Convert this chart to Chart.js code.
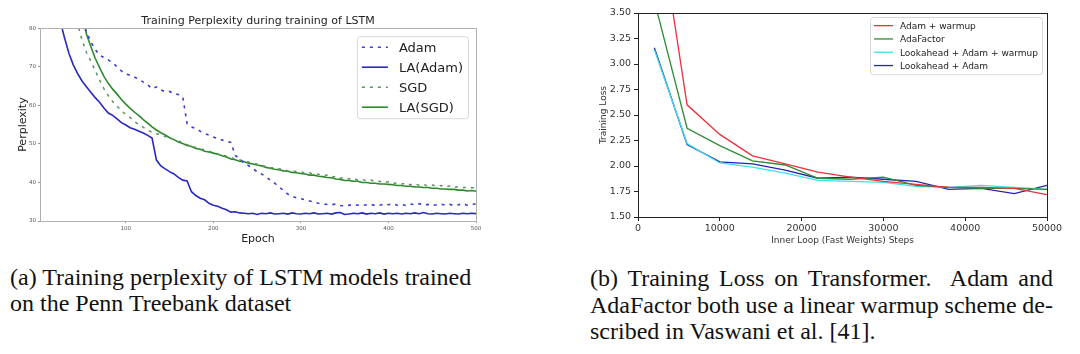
<!DOCTYPE html>
<html>
<head>
<meta charset="utf-8">
<script src="https://cdn.jsdelivr.net/npm/chart.js@4.4.1/dist/chart.umd.min.js"></script>
<style>
  body { margin: 0; background: #fff; width: 1080px; height: 354px; overflow: hidden; position: relative; }
  .box { position: absolute; top: 0; }
  .cap { position: absolute; font-family: "Liberation Serif", "Times New Roman", serif; font-size: 24px; line-height: 26px; color: #111; }
  .cap .j { text-align: justify; text-align-last: justify; }
</style>
</head>
<body>
<div class="box" style="left:0;width:520px;height:252px"><canvas id="lstm" width="520" height="252"></canvas></div>
<div class="box" style="left:560px;width:520px;height:252px"><canvas id="tf" width="520" height="252"></canvas></div>
<div class="cap" style="left:10px;top:264px;width:530px">(a) Training perplexity of LSTM models trained<br>on the Penn Treebank dataset</div>
<div class="cap" style="left:590px;top:265px;width:463px;line-height:26.5px">
  <div class="j">(b) Training Loss on Transformer.&nbsp; Adam and</div>
  <div class="j" style="word-spacing:-2px">AdaFactor both use a linear warmup scheme de-</div>
  <div>scribed in Vaswani et al. [41].</div>
</div>
<script>
// ---- left: LSTM perplexity (epoch every 5) ----
const epochs = [];
for (let e = 5; e <= 500; e += 5) epochs.push(e);
const lstmXTicks = [100, 200, 300, 400, 500];
const lstmYTicks = [30, 40, 50, 60, 70, 80];

const adam = [150,128,112,100,93,88,86,84,83.5,83,79.0,76.5,74.5,73.0,72.4,71.8,71.0,70.0,68.9,68.1,
  67.8,67.3,66.8,66.0,65.3,64.3,64.8,64.0,63.5,63.6,63.0,62.8,62.3,55.2,54.4,54.0,53.3,52.7,52.3,51.8,
  51.4,51.0,50.6,50.4,47.0,46.2,45.0,44.4,43.6,42.8,42.2,41.5,40.6,39.8,38.9,37.9,37.0,36.4,36.0,35.8,
  35.5,35.2,34.9,34.6,34.4,34.3,34.2,34.4,34.0,33.9,34.1,34.3,34.1,34.0,34.2,34.3,34.0,34.1,34.4,34.2,
  34.5,34.1,34.3,34.0,34.4,34.2,34.5,34.1,34.3,34.0,34.2,34.4,34.1,34.3,34.0,34.2,34.5,34.1,34.3,34.4];
const laAdam = [130,110,97,88,82,77.5,73.5,70.5,68.2,66.3,64.8,63.4,62.0,60.8,59.3,58.0,57.4,56.5,55.5,54.9,
  54.2,53.8,53.3,52.8,52.2,51.5,45.8,44.3,43.5,42.8,42.2,41.3,40.6,40.4,37.6,36.6,35.9,35.5,34.6,34.1,
  33.8,33.3,32.9,32.3,32.4,32.1,32.0,31.9,32.0,31.7,32.0,31.9,32.1,31.8,31.9,32.0,31.8,32.1,31.9,31.8,
  32.0,31.9,32.1,31.8,31.9,32.0,31.8,32.1,32.2,31.7,31.8,32.0,31.9,32.1,31.8,32.0,31.9,32.1,31.8,32.0,
  31.9,32.0,31.8,32.0,31.9,32.1,31.9,32.2,31.9,31.8,32.0,31.9,31.8,32.0,31.9,31.8,32.0,31.9,32.0,31.9];
const sgd = [140,120,106,97,92,89,88,88,81,77.0,73.7,71.5,69.0,66.6,64.3,62.5,61.0,59.8,58.6,57.6,
  56.8,55.8,55.0,54.3,53.6,53.0,52.6,52.4,51.9,51.7,51.0,50.8,50.2,49.8,49.3,49.1,48.6,48.5,48.0,47.9,
  47.4,47.2,46.8,46.5,46.0,45.9,45.5,45.3,44.9,44.8,44.4,44.2,43.8,43.8,43.5,43.4,43.0,43.1,42.8,42.8,
  42.4,42.5,42.1,42.1,41.7,41.9,41.4,41.6,41.1,41.3,40.9,41.1,40.6,40.8,40.4,40.6,40.2,40.3,39.9,40.2,
  39.7,39.9,39.6,39.8,39.4,39.7,39.2,39.5,39.1,39.3,39.0,39.2,38.8,39.1,38.7,38.9,38.7,38.7,38.6,38.6];
const laSgd = [150,130,115,104,97,93,91,90.5,90,84,78.5,75.3,72.2,69.8,67.5,65.7,64.2,62.9,61.5,60.3,
  59.2,58.2,57.3,56.3,55.4,54.4,53.6,52.9,52.3,51.6,51.1,50.5,50.1,49.6,49.3,48.8,48.6,48.1,47.9,47.6,
  47.3,46.9,46.6,46.1,45.9,45.5,45.4,45.0,44.8,44.5,44.3,43.9,43.7,43.4,43.3,43.0,42.9,42.6,42.5,42.3,
  42.2,41.9,41.9,41.6,41.5,41.3,41.2,40.9,40.8,40.5,40.5,40.3,40.3,40.0,40.0,39.8,39.8,39.6,39.6,39.5,
  39.4,39.2,39.2,39.0,39.0,38.8,38.8,38.7,38.7,38.5,38.5,38.3,38.3,38.2,38.2,38.0,38.0,37.8,37.9,37.7];

// ---- right: Transformer training loss ----
const steps = [2000, 6000, 10000, 14000, 18000, 22000, 26000, 30000, 34000, 38000, 42000, 46000, 50000];
const tfXTicks = [0, 10000, 20000, 30000, 40000, 50000];
const tfYTicks = [1.5, 1.75, 2.0, 2.25, 2.5, 2.75, 3.0, 3.25, 3.5];
const adamWarmup = [4.70, 2.60, 2.31, 2.10, 2.02, 1.94, 1.89, 1.85, 1.82, 1.79, 1.79, 1.78, 1.72];
const adaFactor  = [3.62, 2.37, 2.20, 2.05, 2.01, 1.88, 1.87, 1.89, 1.81, 1.79, 1.78, 1.78, 1.77];
const laAdamWarm = [3.14, 2.22, 2.03, 1.99, 1.93, 1.86, 1.85, 1.84, 1.80, 1.79, 1.81, 1.79, 1.77];
const laAdamTf   = [3.16, 2.21, 2.04, 2.02, 1.96, 1.88, 1.89, 1.87, 1.85, 1.77, 1.78, 1.73, 1.81];

const pts = (xs, ys) => xs.map((x, i) => ({ x: x, y: ys[i] }));

// box around plot area + legend inside it (top right)
const framePlugin = {
  id: "frame",
  afterDatasetsDraw(chart, args, opts) {
    const { ctx, chartArea: a } = chart;
    ctx.save();
    ctx.strokeStyle = opts.color;
    ctx.lineWidth = 1;
    ctx.strokeRect(Math.round(a.left) + 0.5, Math.round(a.top) + 0.5,
      Math.round(a.right - a.left), Math.round(a.bottom - a.top));
    // legend
    const lg = opts.legend;
    ctx.font = lg.fontSize + "px 'DejaVu Sans'";
    const ds = chart.data.datasets;
    const tw = Math.max(...ds.map(d => ctx.measureText(d.label).width));
    const w = lg.pad * 2 + lg.lineLen + lg.gap + tw;
    const h = lg.rowH * ds.length + lg.padY * 2;
    const x0 = a.right - lg.offX - w, y0 = a.top + lg.offY;
    ctx.fillStyle = "rgba(255,255,255,0.85)";
    ctx.strokeStyle = "#d8d8d8";
    ctx.beginPath();
    ctx.roundRect(x0 + 0.5, y0 + 0.5, w, h, 3);
    ctx.fill();
    ctx.stroke();
    ds.forEach((d, i) => {
      const cy = y0 + lg.padY + lg.rowH * (i + 0.5);
      ctx.strokeStyle = d.borderColor;
      ctx.lineWidth = d.borderWidth;
      ctx.setLineDash(d.borderDash || []);
      ctx.beginPath();
      ctx.moveTo(x0 + lg.pad, cy);
      ctx.lineTo(x0 + lg.pad + lg.lineLen, cy);
      ctx.stroke();
      ctx.setLineDash([]);
      ctx.fillStyle = "#222";
      ctx.textBaseline = "middle";
      ctx.fillText(d.label, x0 + lg.pad + lg.lineLen + lg.gap, cy + 1);
    });
    ctx.restore();
  }
};

const line = (label, data, color, dash, width) => ({
  label: label, data: data, borderColor: color, borderWidth: width,
  borderDash: dash, pointRadius: 0, fill: false, tension: 0
});

new Chart(document.getElementById("lstm"), {
  type: "line",
  data: {
    datasets: [
      line("Adam", pts(epochs, adam), "#3c3cd8", [3, 5], 1.6),
      line("LA(Adam)", pts(epochs, laAdam), "#2828c4", [], 1.6),
      line("SGD", pts(epochs, sgd), "#5f915f", [3, 5], 1.5),
      line("LA(SGD)", pts(epochs, laSgd), "#2c8a2c", [], 1.6)
    ]
  },
  options: {
    responsive: false,
    animation: false,
    layout: { padding: { left: 0, right: 44, top: 0, bottom: 0 } },
    plugins: {
      legend: { display: false },
      tooltip: { enabled: false },
      title: {
        display: true, fullSize: false,
        text: "Training Perplexity during training of LSTM",
        color: "#222", font: { family: "DejaVu Sans", size: 11, weight: "normal" },
        padding: { top: 15, bottom: 0 }
      },
      frame: {
        color: "#b0b0b0",
        legend: { fontSize: 13, pad: 5, padY: 1, lineLen: 26, gap: 11, rowH: 20, offX: 8, offY: 8 }
      }
    },
    scales: {
      x: {
        type: "linear", min: 2, max: 500,
        afterBuildTicks: s => { s.ticks = lstmXTicks.map(v => ({ value: v })); },
        afterFit: s => { s.height = 31; },
        grid: { display: true, drawOnChartArea: false, tickLength: 2, color: "#999" },
        border: { display: false },
        ticks: { color: "#555", font: { family: "DejaVu Sans", size: 5.5 }, padding: 2, maxRotation: 0 },
        title: { display: true, text: "Epoch", color: "#222", font: { family: "DejaVu Sans", size: 11 }, padding: { top: 0, bottom: 6 } }
      },
      y: {
        min: 30, max: 80,
        afterBuildTicks: s => { s.ticks = lstmYTicks.map(v => ({ value: v })); },
        afterFit: s => { s.width = 40; },
        grid: { display: true, drawOnChartArea: false, tickLength: 2, color: "#999" },
        border: { display: false },
        ticks: { color: "#555", font: { family: "DejaVu Sans", size: 5.5 }, padding: 2 },
        title: { display: true, text: "Perplexity", color: "#222", font: { family: "DejaVu Sans", size: 11 }, padding: { top: 17, bottom: 0 } }
      }
    }
  },
  plugins: [framePlugin]
});

new Chart(document.getElementById("tf"), {
  type: "line",
  data: {
    datasets: [
      line("Adam + warmup", pts(steps, adamWarmup), "#e8323c", [], 1.3),
      line("AdaFactor", pts(steps, adaFactor), "#2e8a36", [], 1.3),
      line("Lookahead + Adam + warmup", pts(steps, laAdamWarm), "#3ee0e6", [], 1.3),
      line("Lookahead + Adam", pts(steps, laAdamTf), "#2424b4", [], 1.3)
    ]
  },
  options: {
    responsive: false,
    animation: false,
    layout: { padding: { left: 0, right: 33, top: 13, bottom: 0 } },
    plugins: {
      legend: { display: false },
      tooltip: { enabled: false },
      frame: {
        color: "#222",
        legend: { fontSize: 9, pad: 4, padY: 2, lineLen: 19, gap: 7, rowH: 13.3, offX: 5, offY: 4 }
      }
    },
    scales: {
      x: {
        type: "linear", min: 0, max: 50000,
        afterBuildTicks: s => { s.ticks = tfXTicks.map(v => ({ value: v })); },
        afterFit: s => { s.height = 35; },
        grid: { display: true, drawOnChartArea: false, tickLength: 4, color: "#222" },
        border: { display: false },
        ticks: { color: "#333", font: { family: "DejaVu Sans", size: 9.5 }, padding: 2, maxRotation: 0,
          callback: v => String(v) },
        title: { display: true, text: "Inner Loop (Fast Weights) Steps", color: "#333", font: { family: "DejaVu Sans", size: 9 }, padding: { top: 0, bottom: 6 } }
      },
      y: {
        min: 1.5, max: 3.5,
        afterBuildTicks: s => { s.ticks = tfYTicks.map(v => ({ value: v })); },
        afterFit: s => { s.width = 78; },
        grid: { display: true, drawOnChartArea: false, tickLength: 4, color: "#222" },
        border: { display: false },
        ticks: { color: "#333", font: { family: "DejaVu Sans", size: 9.5 }, padding: 3,
          callback: v => v.toFixed(2) },
        title: { display: true, text: "Training Loss", color: "#333", font: { family: "DejaVu Sans", size: 9 }, padding: { top: 38, bottom: 0 } }
      }
    }
  },
  plugins: [framePlugin]
});
</script>
</body>
</html>
